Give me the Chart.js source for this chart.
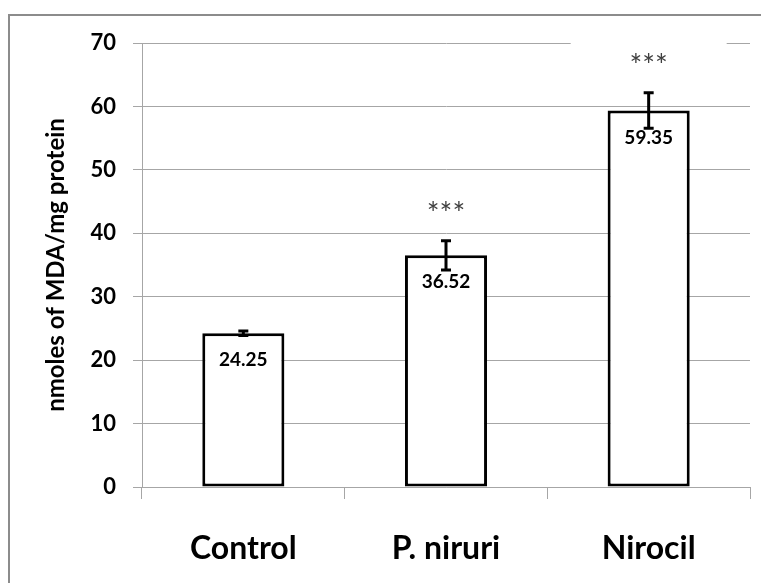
<!DOCTYPE html>
<html>
<head>
<meta charset="utf-8">
<script src="https://cdn.jsdelivr.net/npm/chart.js@4"></script>
<style>
  html, body { margin: 0; padding: 0; background: #fff; }
  #wrap { width: 761px; height: 583px; }
</style>
</head>
<body>
<div id="wrap"><canvas id="chart"></canvas></div>
<script>
const categories = ['Control', 'P. niruri', 'Nirocil'];
const means = [24.25, 36.52, 59.35];
const errors = [0.35, 2.3, 2.8];
const stars = ['', '***', '***'];
const yTicks = [0, 10, 20, 30, 40, 50, 60, 70];

const FONT = 'Lato, "Open Sans", sans-serif';
const GRID = '#a6a6a6';

// outer frame, error bars, value labels and significance stars
const extras = {
    id: 'extras',
    beforeDraw(chart) {
        const ctx = chart.ctx;
        ctx.save();
        ctx.strokeStyle = '#8c8c8c';
        ctx.lineWidth = 2;
        ctx.beginPath();
        ctx.moveTo(9, 583);
        ctx.lineTo(9, 15);
        ctx.lineTo(761, 15);
        ctx.stroke();
        ctx.restore();
    },
    afterDatasetsDraw(chart) {
        const ctx = chart.ctx;
        const x = chart.scales.x, y = chart.scales.y;
        ctx.save();
        means.forEach((m, i) => {
            const cx = x.getPixelForValue(i);
            const top = y.getPixelForValue(m + errors[i]);
            const bot = y.getPixelForValue(m - errors[i]);
            ctx.strokeStyle = '#000';
            ctx.lineWidth = 3;
            ctx.beginPath();
            ctx.moveTo(cx, top); ctx.lineTo(cx, bot);
            ctx.moveTo(cx - 5, top); ctx.lineTo(cx + 5, top);
            ctx.moveTo(cx - 5, bot); ctx.lineTo(cx + 5, bot);
            ctx.stroke();

            ctx.fillStyle = '#000';
            ctx.font = 'bold 19px ' + FONT;
            ctx.textAlign = 'center';
            ctx.textBaseline = 'middle';
            ctx.fillText(m.toFixed(2), cx, y.getPixelForValue(m) + 27);

            if (stars[i]) {
                const sy = top - 33;
                ctx.fillStyle = '#fff';
                ctx.fillRect(cx - 78, sy - 18, 156, 36);
                ctx.fillStyle = '#404040';
                ctx.font = '30px ' + FONT;
                ctx.fillText(stars[i], cx, sy + 7);
            }
        });
        ctx.restore();
    }
};

new Chart(document.getElementById('chart'), {
    type: 'bar',
    data: {
        labels: categories,
        datasets: [{
            data: means,
            backgroundColor: '#fff',
            borderColor: '#000',
            borderWidth: 3,
            borderSkipped: false,
            barPercentage: 0.405,
            categoryPercentage: 1
        }]
    },
    options: {
        responsive: true,
        maintainAspectRatio: false,
        animation: false,
        layout: { padding: { top: 43, right: 11, left: 0, bottom: 0 } },
        plugins: { legend: { display: false }, tooltip: { enabled: false } },
        scales: {
            y: {
                min: 0, max: 70,
                afterBuildTicks: s => { s.ticks = yTicks.map(v => ({ value: v })); },
                afterFit: s => { s.width = 142; },
                grid: { color: GRID, tickLength: 9 },
                border: { color: GRID },
                ticks: { color: '#000', padding: 17, font: { family: FONT, size: 22, weight: 'bold' } },
                title: {
                    display: true,
                    text: 'nmoles of MDA/mg protein',
                    color: '#000',
                    font: { family: FONT, size: 24, weight: 'bold' },
                    padding: { top: 42, bottom: 0 }
                }
            },
            x: {
                afterFit: s => { s.height = 583 - 487; },
                grid: { color: GRID, tickLength: 12, drawOnChartArea: false, offset: true },
                border: { color: GRID },
                ticks: { color: '#000', padding: 30, font: { family: FONT, size: 32, weight: 'bold' } }
            }
        }
    },
    plugins: [extras]
});
</script>
</body>
</html>
